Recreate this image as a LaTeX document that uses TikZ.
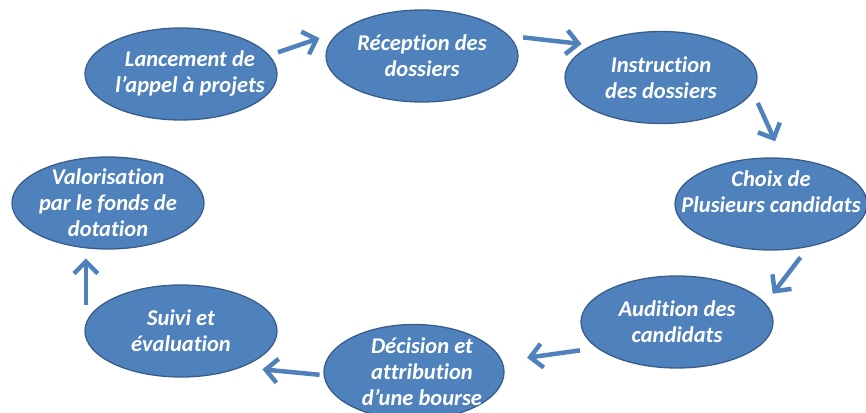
\documentclass[tikz,border=0pt]{standalone}
\usepackage{fontspec}
\setmainfont{Carlito}[Ligatures=NoCommon]
\usetikzlibrary{shapes.geometric,arrows.meta}
\definecolor{stagefill}{HTML}{4F81BD}
\definecolor{stageline}{HTML}{385D8A}

\begin{document}
\begin{tikzpicture}[x=1pt,y=-1pt,
			stage/.style={ellipse,draw=stageline,fill=stagefill,line width=1.3pt,minimum width=192pt,minimum height=92pt,inner sep=0pt},
			caption/.style={text=white,align=center,font=\bfseries\itshape\fontsize{22.5}{26}\selectfont},
			flow/.style={draw=stagefill,line width=4.5pt,-{Straight Barb[length=12pt,width=24pt]}}]
			\useasboundingbox (0,0) rectangle (866,412);
			\node (lanc) [stage,label={[caption,xshift=9pt]center:Lancement de\\l’appel à projets}] at (181,74) {};
			\node (recep) [stage,label={[caption]center:Réception des\\dossiers}] at (422,56) {};
			\node (instr) [stage,label={[caption]center:Instruction\\des dossiers}] at (661,77.5) {};
			\node (choix) [stage,label={[caption,yshift=12pt]center:Choix de\\Plusieurs candidats}] at (771,204) {};
			\node (audit) [stage,label={[caption]center:Audition des\\candidats}] at (677,322) {};
			\node (decis) [stage,minimum width=180pt,minimum height=95pt,
				label={[caption,xshift=8pt]center:Décision et\\attribution\\d’une bourse}] at (414,372) {};
			\node (suivi) [stage,label={[caption]center:Suivi et\\évaluation}] at (181,331) {};
			\node (valo) [stage,label={[caption]center:Valorisation\\par le fonds de\\dotation}] at (108,203) {};
			% cycle
			\draw [flow,shorten <=9pt,shorten >=22pt] (lanc.12) -- (recep.163);
			\draw [flow,shorten <=14pt,shorten >=10pt] (recep.13) -- (instr.155);
			\draw [flow,shorten <=12pt,shorten >=18pt] (instr.351) -- (choix.76);
			\draw [flow,shorten <=13pt,shorten >=12pt] (choix.311) -- (audit.12);
			\draw [flow,shorten <=17pt,shorten >=25pt] (audit.198) -- (decis.7);
			\draw [flow,shorten <=4pt,shorten >=21pt] (decis.182) -- (suivi.329);
			\draw [flow,shorten >=10pt] (valo.244 |- suivi.162) -- (valo.244);
\end{tikzpicture}
\end{document}
